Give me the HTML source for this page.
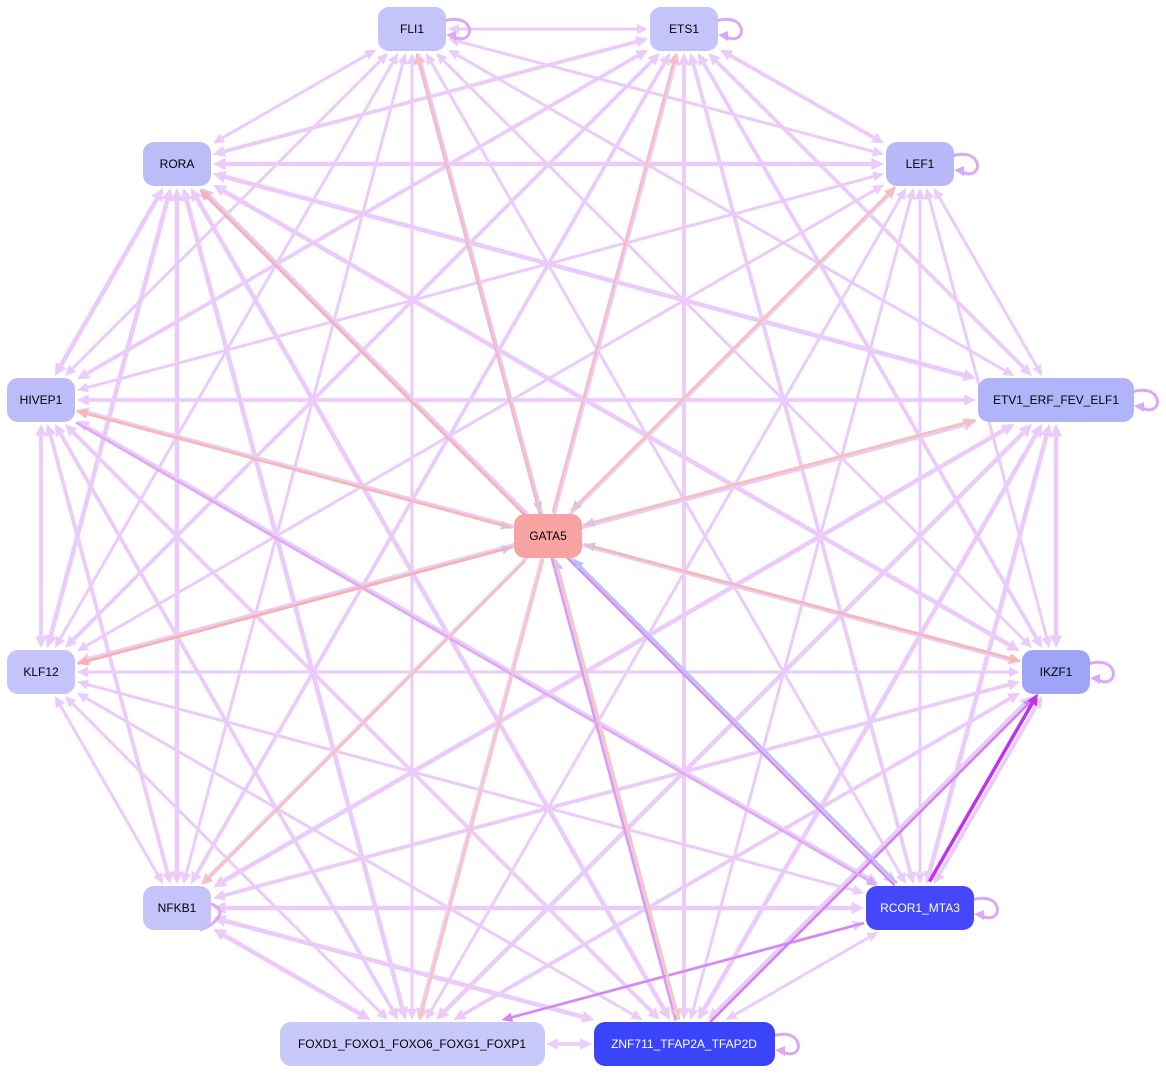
<!DOCTYPE html>
<html><head><meta charset="utf-8"><style>
html,body{margin:0;padding:0;background:#fff;width:1166px;height:1074px;overflow:hidden}
svg{position:absolute;left:0;top:0}
text{font-family:"Liberation Sans",sans-serif;font-size:12px;text-anchor:middle;dominant-baseline:central}
</style></head><body>
<svg id="s" width="1166" height="1074" viewBox="0 0 1166 1074">
<g id="edges"></g>
<g id="nodes">
<rect x="378" y="7" width="68" height="44" rx="11" fill="#c4c4fa"/><text x="412" y="29">FLI1</text>
<rect x="650" y="7" width="68" height="44" rx="11" fill="#c4c4fa"/><text x="684" y="29">ETS1</text>
<rect x="143" y="142" width="68" height="44" rx="11" fill="#bcbcf8"/><text x="177" y="164">RORA</text>
<rect x="886" y="142" width="68" height="44" rx="11" fill="#b8b8f8"/><text x="920" y="164">LEF1</text>
<rect x="7" y="378" width="68" height="44" rx="11" fill="#bcbcf8"/><text x="41" y="400">HIVEP1</text>
<rect x="978" y="378" width="156" height="44" rx="11" fill="#b0b4f8"/><text x="1056" y="400">ETV1_ERF_FEV_ELF1</text>
<rect x="514" y="514" width="68" height="44" rx="11" fill="#f8a2a2"/><text x="548" y="536">GATA5</text>
<rect x="7" y="650" width="68" height="44" rx="11" fill="#c4c4fa"/><text x="41" y="672">KLF12</text>
<rect x="1022" y="650" width="68" height="44" rx="11" fill="#9ea4f8"/><text x="1056" y="672">IKZF1</text>
<rect x="143" y="886" width="68" height="44" rx="11" fill="#c4c4fa"/><text x="177" y="908">NFKB1</text>
<rect x="866" y="886" width="108" height="44" rx="11" fill="#4448fa"/><text x="920" y="908" fill="#fff">RCOR1_MTA3</text>
<rect x="280" y="1022" width="265" height="44" rx="11" fill="#c8c8fa"/><text x="412" y="1044">FOXD1_FOXO1_FOXO6_FOXG1_FOXP1</text>
<rect x="594" y="1022" width="181" height="44" rx="11" fill="#3a44f8"/><text x="684" y="1044" fill="#fff">ZNF711_TFAP2A_TFAP2D</text>
</g>
</svg>
<script>
var N={FLI1:[412,29,34],ETS1:[684,29,34],RORA:[177,164,34],LEF1:[920,164,34],HIVEP1:[41,400,34],ETV1:[1056,400,78],GATA5:[548,536,34],KLF12:[41,672,34],IKZF1:[1056,672,34],NFKB1:[177,908,34],RCOR1:[920,908,54],FOXD1:[412,1044,132],ZNF711:[684,1044,90]};
var ns="http://www.w3.org/2000/svg",E=document.getElementById('edges');
function bd(n,dx,dy){var w=N[n][2]+2,h=24,t=Math.min(dx?w/Math.abs(dx):1e9,dy?h/Math.abs(dy):1e9);return [N[n][0]+dx*t,N[n][1]+dy*t];}
function head(q,ux,uy,w,c){var hl=8+w,ex=q[0]-ux*hl,ey=q[1]-uy*hl,hw=3+w*0.7;var g=document.createElementNS(ns,'polygon');g.setAttribute('points',q[0]+','+q[1]+' '+(ex-uy*hw)+','+(ey+ux*hw)+' '+(ex+uy*hw)+','+(ey-ux*hw));g.setAttribute('fill',c);E.appendChild(g);return [ex,ey];}
function edge(a,b,c,w,off,both){var A=N[a],B=N[b],dx=B[0]-A[0],dy=B[1]-A[1],L=Math.hypot(dx,dy),ux=dx/L,uy=dy/L;off=off||0;var px=-uy*off,py=ux*off;
var p=bd(a,dx,dy),q=bd(b,-dx,-dy);p[0]+=px;p[1]+=py;q[0]+=px;q[1]+=py;
var e=head(q,ux,uy,w,c),s=p;if(both)s=head(p,-ux,-uy,w,c);
var l=document.createElementNS(ns,'line');l.setAttribute('x1',s[0]);l.setAttribute('y1',s[1]);l.setAttribute('x2',e[0]);l.setAttribute('y2',e[1]);l.setAttribute('stroke',c);l.setAttribute('stroke-width',w);E.appendChild(l);}
var K=Object.keys(N).filter(function(k){return k!='GATA5'});
var C='#ebcbfa';
for(var i=0;i<K.length;i++)for(var j=i+1;j<K.length;j++){var w=3+((i*7+j*3)%3)*0.8;edge(K[i],K[j],C,w,0,true);}
edge('ZNF711','FLI1','#d89cf2',2.5,-2);edge('RCOR1','RORA','#d090f2',2.5,-2);edge('RCOR1','FOXD1','#d488f2',2.5);edge('ZNF711','IKZF1','#d080f0',2.5,3);
edge('RCOR1','IKZF1','#c030f4',3.5,-5);edge('HIVEP1','RCOR1','#dcaaf4',2.5,2);
var G=[['FLI1','#c0ccf6','#f8c0c0'],['ETS1',null,'#f8bcc6'],['RORA',null,'#f8b4b4'],['LEF1','#c0ccf6','#f8c0b8'],['HIVEP1','#c0ccf6','#f8b8b0'],['ETV1','#c0ccf6','#f8c0b8'],['KLF12','#c0ccf6','#f8b0a8'],['IKZF1','#c0ccf6','#f8b8b0'],['NFKB1',null,'#f8c0c0'],['FOXD1',null,'#f8c4c4'],['ZNF711','#bcc4f8','#f8c8c0'],['RCOR1','#b8c0f8',null]];
G.forEach(function(g){if(g[1])edge(g[0],'GATA5',g[1],2.5,1.5);if(g[2])edge('GATA5',g[0],g[2],2.5,-1.5);});
[['FLI1',446,29],['ETS1',718,29],['LEF1',954,164],['ETV1',1134,400],['IKZF1',1090,672],['RCOR1',974,908],['ZNF711',775,1044]].forEach(function(s){var x=s[1],y=s[2];var p=document.createElementNS(ns,'path');p.setAttribute('d','M'+(x-2)+','+(y-8)+' C'+(x+30)+','+(y-18)+' '+(x+30)+','+(y+18)+' '+(x+8)+','+(y+8));p.setAttribute('stroke','#dca8f4');p.setAttribute('stroke-width',3);p.setAttribute('fill','none');E.appendChild(p);var g=document.createElementNS(ns,'polygon');g.setAttribute('points',x+','+(y+6)+' '+(x+10)+','+(y+2)+' '+(x+10)+','+(y+12));g.setAttribute('fill','#dca8f4');E.appendChild(g);});
(function(){var p=document.createElementNS(ns,'path');p.setAttribute('d','M200,930 C215,925 230,910 211,904');p.setAttribute('stroke','#dca8f4');p.setAttribute('stroke-width',3);p.setAttribute('fill','none');E.appendChild(p);})();
</script>
</body></html>
